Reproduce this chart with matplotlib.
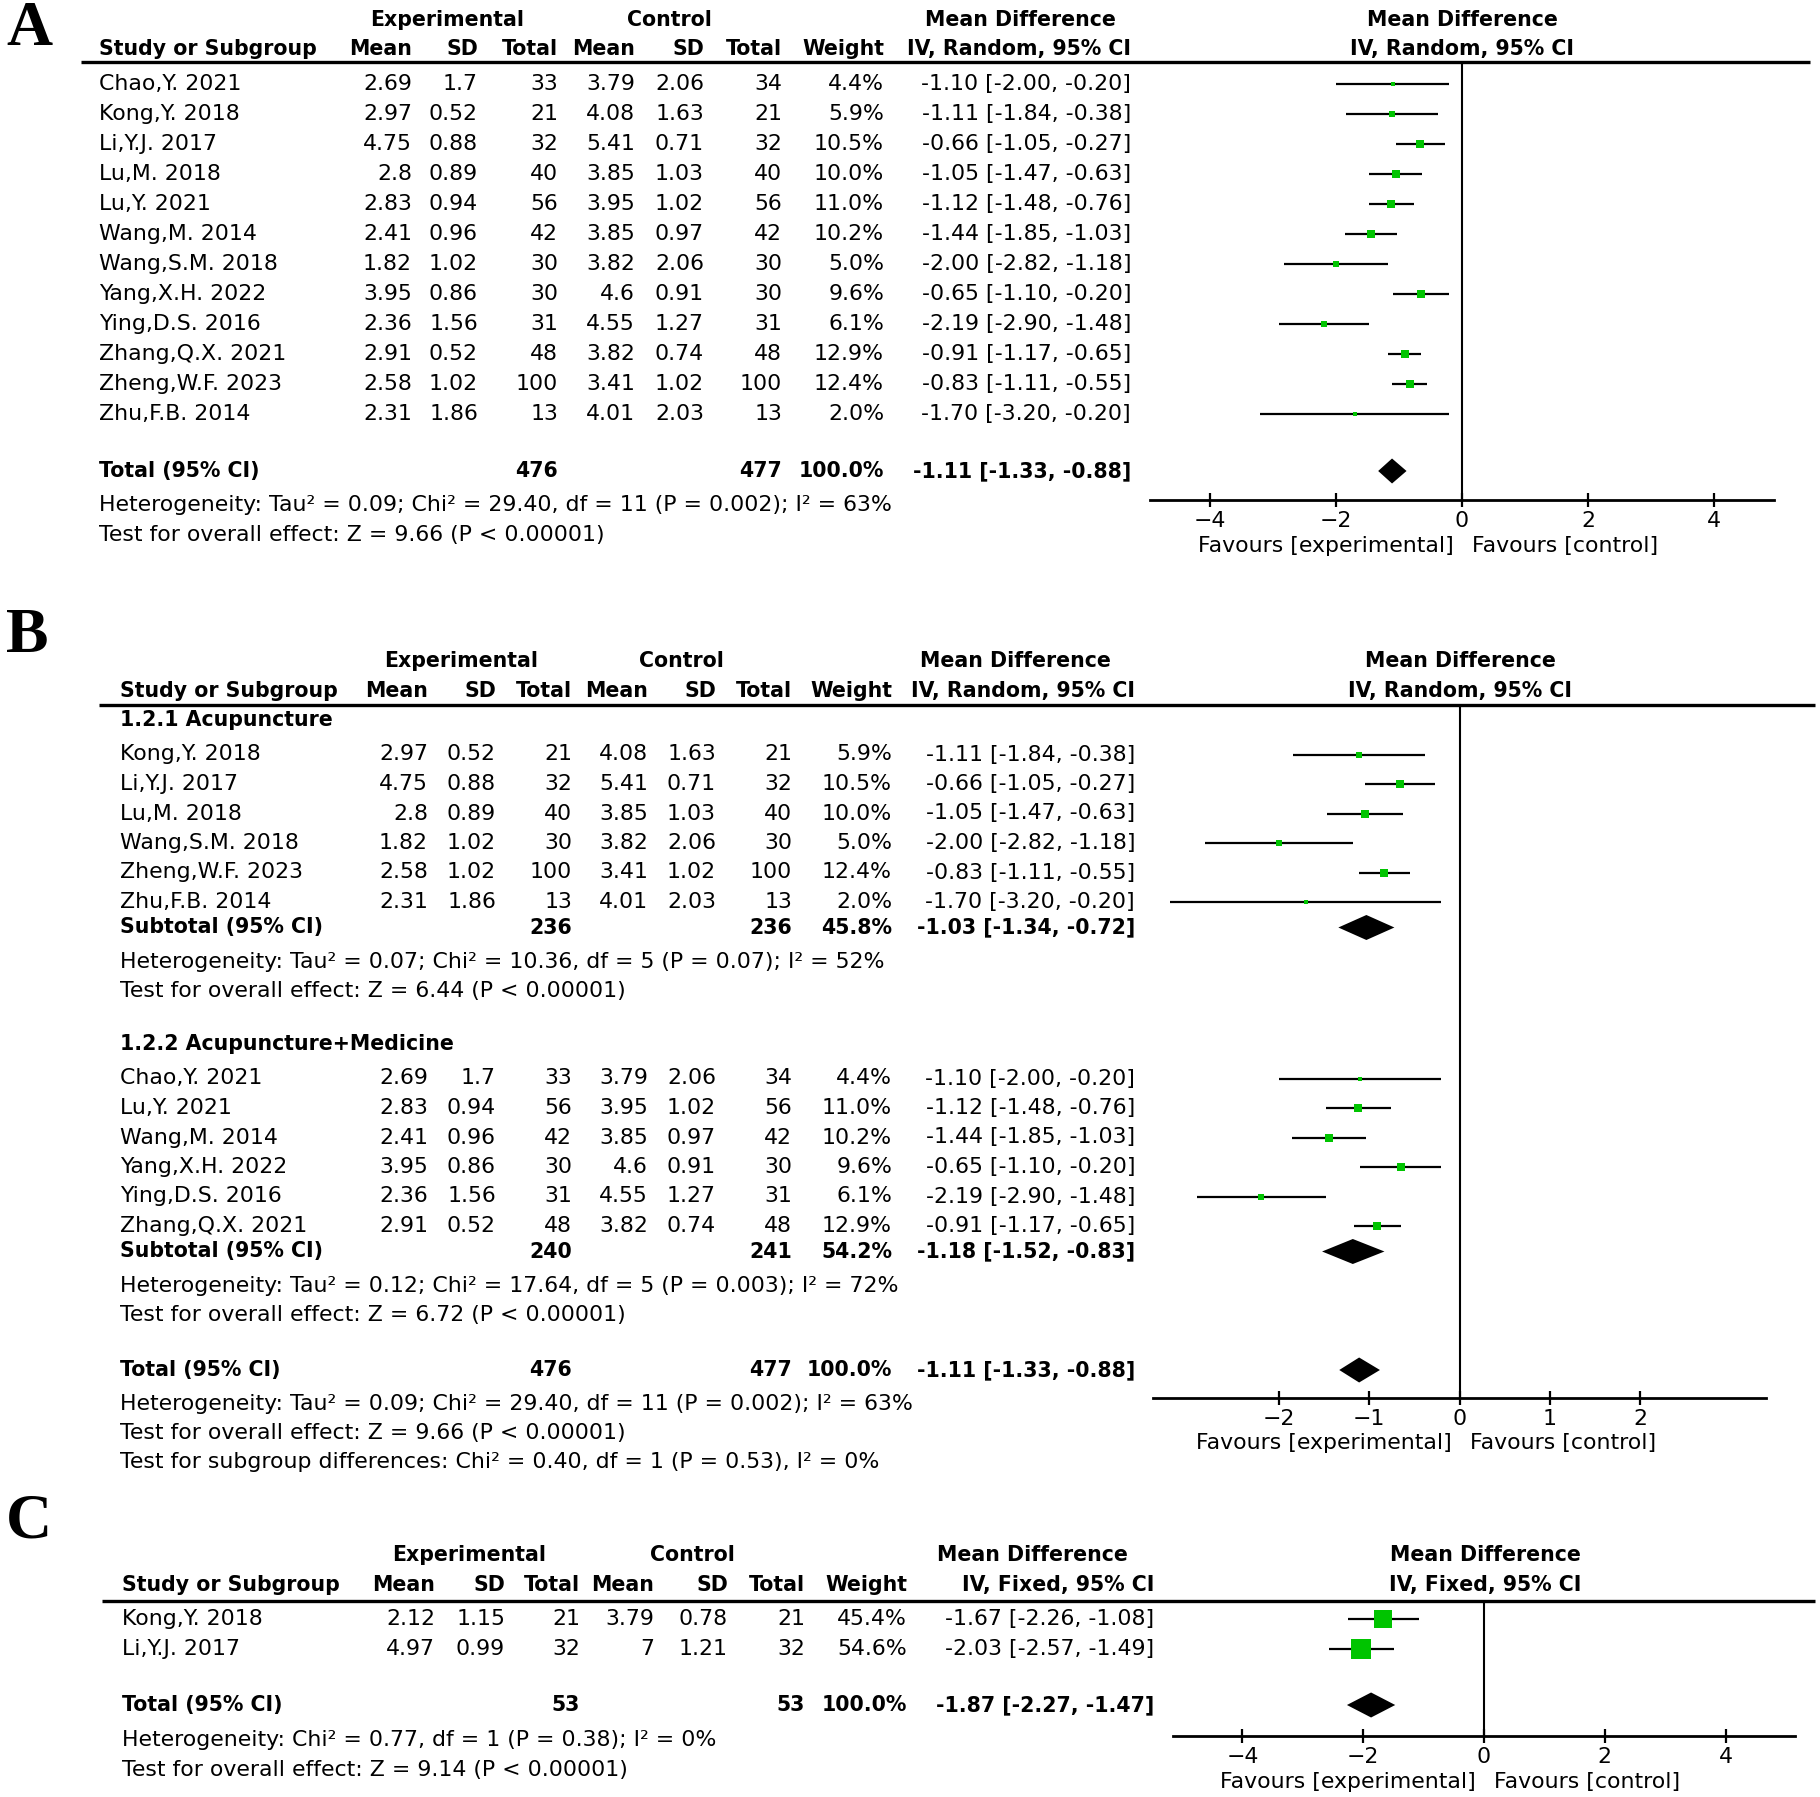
import matplotlib
matplotlib.use("Agg")
import matplotlib.pyplot as plt
import numpy as np

# ---------------- data ----------------
studies = ["Chao,Y. 2021", "Kong,Y. 2018", "Li,Y.J. 2017", "Lu,M. 2018", "Lu,Y. 2021",
           "Wang,M. 2014", "Wang,S.M. 2018", "Yang,X.H. 2022", "Ying,D.S. 2016",
           "Zhang,Q.X. 2021", "Zheng,W.F. 2023", "Zhu,F.B. 2014"]
exp_mean = [2.69, 2.97, 4.75, 2.8, 2.83, 2.41, 1.82, 3.95, 2.36, 2.91, 2.58, 2.31]
exp_sd = [1.7, 0.52, 0.88, 0.89, 0.94, 0.96, 1.02, 0.86, 1.56, 0.52, 1.02, 1.86]
exp_n = [33, 21, 32, 40, 56, 42, 30, 30, 31, 48, 100, 13]
ctl_mean = [3.79, 4.08, 5.41, 3.85, 3.95, 3.85, 3.82, 4.6, 4.55, 3.82, 3.41, 4.01]
ctl_sd = [2.06, 1.63, 0.71, 1.03, 1.02, 0.97, 2.06, 0.91, 1.27, 0.74, 1.02, 2.03]
ctl_n = [34, 21, 32, 40, 56, 42, 30, 30, 31, 48, 100, 13]
weight = [4.4, 5.9, 10.5, 10.0, 11.0, 10.2, 5.0, 9.6, 6.1, 12.9, 12.4, 2.0]
md = [-1.10, -1.11, -0.66, -1.05, -1.12, -1.44, -2.00, -0.65, -2.19, -0.91, -0.83, -1.70]
md_lo = [-2.00, -1.84, -1.05, -1.47, -1.48, -1.85, -2.82, -1.10, -2.90, -1.17, -1.11, -3.20]
md_hi = [-0.20, -0.38, -0.27, -0.63, -0.76, -1.03, -1.18, -0.20, -1.48, -0.65, -0.55, -0.20]
total_n = [476, 477]
total_w = 100.0
total_md = [-1.11, -1.33, -0.88]

# subgroups for panel B (indices into the study lists)
sub_names = ["1.2.1 Acupuncture", "1.2.2 Acupuncture+Medicine"]
sub_members = [[1, 2, 3, 6, 10, 11], [0, 4, 5, 7, 8, 9]]
sub_n = [[236, 236], [240, 241]]
sub_w = [45.8, 54.2]
sub_md = [[-1.03, -1.34, -0.72], [-1.18, -1.52, -0.83]]
sub_het = ["Heterogeneity: Tau² = 0.07; Chi² = 10.36, df = 5 (P = 0.07); I² = 52%",
           "Heterogeneity: Tau² = 0.12; Chi² = 17.64, df = 5 (P = 0.003); I² = 72%"]
sub_test = ["Test for overall effect: Z = 6.44 (P < 0.00001)",
            "Test for overall effect: Z = 6.72 (P < 0.00001)"]
het_all = "Heterogeneity: Tau² = 0.09; Chi² = 29.40, df = 11 (P = 0.002); I² = 63%"
test_all = "Test for overall effect: Z = 9.66 (P < 0.00001)"
test_sub = "Test for subgroup differences: Chi² = 0.40, df = 1 (P = 0.53), I² = 0%"

# panel C
c_studies = ["Kong,Y. 2018", "Li,Y.J. 2017"]
c_exp_mean = [2.12, 4.97]
c_exp_sd = [1.15, 0.99]
c_exp_n = [21, 32]
c_ctl_mean = [3.79, 7]
c_ctl_sd = [0.78, 1.21]
c_ctl_n = [21, 32]
c_weight = [45.4, 54.6]
c_md = [-1.67, -2.03]
c_lo = [-2.26, -2.57]
c_hi = [-1.08, -1.49]
c_total_n = [53, 53]
c_total_md = [-1.87, -2.27, -1.47]
c_het = "Heterogeneity: Chi² = 0.77, df = 1 (P = 0.38); I² = 0%"
c_test = "Test for overall effect: Z = 9.14 (P < 0.00001)"

ticks_A = [-4, -2, 0, 2, 4]
ticks_B = [-2, -1, 0, 1, 2]
ticks_C = [-4, -2, 0, 2, 4]

# ---------------- style ----------------
W, H = 1820, 1797
FONT = "DejaVu Sans"
FS = 15.8
FSB = 14.8
GREEN = "#00c400"
plt.rcParams["font.family"] = [FONT]

fig = plt.figure(figsize=(W / 100, H / 100), dpi=100)
ax0 = fig.add_axes([0, 0, 1, 1])
ax0.set_xlim(0, W)
ax0.set_ylim(H, 0)
ax0.axis("off")


def t(x, y, s, ha="left", bold=False, **kw):
    ax0.text(x, y, s, ha=ha, va="center", fontsize=FSB if bold else FS,
             fontweight="bold" if bold else "normal", **kw)


def fmt_num(v):
    return f"{v:g}"


def fmt_ci(m, l, h):
    return f"{m:.2f} [{l:.2f}, {h:.2f}]"


def header(cols, y_top, y_sub, exp_c, ctl_c, md_c, fig_c, method, line):
    t(exp_c, y_top, "Experimental", ha="center", bold=True)
    t(ctl_c, y_top, "Control", ha="center", bold=True)
    t(md_c, y_top, "Mean Difference", ha="center", bold=True)
    t(fig_c, y_top, "Mean Difference", ha="center", bold=True)
    t(cols["study"], y_sub, "Study or Subgroup", bold=True)
    for key, lab in [("em", "Mean"), ("es", "SD"), ("en", "Total"), ("cm", "Mean"),
                     ("cs", "SD"), ("cn", "Total"), ("w", "Weight")]:
        t(cols[key], y_sub, lab, ha="right", bold=True)
    t(cols["ci"], y_sub, f"IV, {method}, 95% CI", ha="right", bold=True)
    t(fig_c, y_sub, f"IV, {method}, 95% CI", ha="center", bold=True)
    ax0.plot(line[:2], [line[2], line[2]], color="black", lw=2.4, solid_capstyle="butt")


def study_row(cols, y, i, src):
    name, em, es, en, cm, cs, cn, w, m, l, h = src
    t(cols["study"], y, name[i])
    t(cols["em"], y, fmt_num(em[i]), ha="right")
    t(cols["es"], y, fmt_num(es[i]), ha="right")
    t(cols["en"], y, str(en[i]), ha="right")
    t(cols["cm"], y, fmt_num(cm[i]), ha="right")
    t(cols["cs"], y, fmt_num(cs[i]), ha="right")
    t(cols["cn"], y, str(cn[i]), ha="right")
    t(cols["w"], y, f"{w[i]:.1f}%", ha="right")
    t(cols["ci"], y, fmt_ci(m[i], l[i], h[i]), ha="right")


def total_row(cols, y, label, n, w, mdv):
    t(cols["study"], y, label, bold=True)
    t(cols["en"], y, str(n[0]), ha="right", bold=True)
    t(cols["cn"], y, str(n[1]), ha="right", bold=True)
    t(cols["w"], y, f"{w:.1f}%", ha="right", bold=True)
    t(cols["ci"], y, fmt_ci(*mdv), ha="right", bold=True)


def forest_axes(left, right, top, bottom, xlim, ticks):
    ax = fig.add_axes([left / W, 1 - bottom / H, (right - left) / W, (bottom - top) / H])
    ax.set_xlim(*xlim)
    ax.set_ylim(bottom, top)
    ax.patch.set_alpha(0)
    for s in ["top", "left", "right"]:
        ax.spines[s].set_visible(False)
    ax.spines["bottom"].set_linewidth(2.0)
    ax.set_yticks([])
    ax.set_xticks(ticks)
    ax.set_xticklabels([str(v).replace("-", "−") for v in ticks])
    ax.tick_params(axis="x", direction="inout", length=10, width=1.6, labelsize=FS, pad=3)
    ax.axvline(0, color="black", lw=1.5)
    return ax


def draw_study(ax, y, m, l, h, w, k):
    ax.plot([l, h], [y, y], color="black", lw=1.6, solid_capstyle="butt", clip_on=False)
    side = k * np.sqrt(w)
    ax.plot([m], [y], marker="s", ms=side * 0.72, color=GREEN, mec=GREEN, mew=0,
            linestyle="none", clip_on=False)


def draw_diamond(ax, y, mdv, hh=12.5):
    m, l, h = mdv
    ax.fill([l, m, h, m], [y, y - hh, y, y + hh], color="black", lw=0, clip_on=False)


def favours(ax, y):
    ax.annotate("Favours [experimental]", xy=(0, y), xytext=(-8, 0), textcoords="offset pixels",
                ha="right", va="center", fontsize=FS, annotation_clip=False)
    ax.annotate("Favours [control]", xy=(0, y), xytext=(10, 0), textcoords="offset pixels",
                ha="left", va="center", fontsize=FS, annotation_clip=False)


full_src = (studies, exp_mean, exp_sd, exp_n, ctl_mean, ctl_sd, ctl_n, weight, md, md_lo, md_hi)
c_src = (c_studies, c_exp_mean, c_exp_sd, c_exp_n, c_ctl_mean, c_ctl_sd, c_ctl_n, c_weight,
         c_md, c_lo, c_hi)
LETTER = dict(family="Liberation Serif", fontweight="bold", fontsize=46, ha="left", va="center")

# ================= Panel A =================
ax0.text(6, 30, "A", **LETTER)
colsA = dict(study=99, em=412, es=478, en=558, cm=635, cs=704, cn=782, w=884, ci=1131)
header(colsA, 20, 49, 447, 669, 1020, 1462, "Random", (81, 1810, 62))
axA = forest_axes(1150, 1774, 62, 500, (-4.95, 4.95), ticks_A)
rows_A = 84 + 30.0 * np.arange(len(studies))
for i, y in enumerate(rows_A):
    study_row(colsA, y, i, full_src)
    draw_study(axA, y, md[i], md_lo[i], md_hi[i], weight[i], 2.3)
total_row(colsA, 471, "Total (95% CI)", total_n, total_w, total_md)
draw_diamond(axA, 471, total_md)
t(99, 505, het_all)
t(99, 535, test_all)
favours(axA, 546)

# ================= Panel B =================
ax0.text(6, 637, "B", **LETTER)
colsB = dict(study=120, em=428, es=496, en=572, cm=648, cs=716, cn=792, w=892, ci=1135)
header(colsB, 661, 691, 461, 681, 1015, 1460, "Random", (99, 1815, 705))
axB = forest_axes(1153, 1766, 705, 1398, (-3.39, 3.39), ticks_B)
sub_start = [720, 1044]
for g in range(2):
    y0 = sub_start[g]
    t(120, y0, sub_names[g], bold=True)
    for j, i in enumerate(sub_members[g]):
        y = y0 + 34.5 + 29.5 * j
        study_row(colsB, y, i, full_src)
        draw_study(axB, y, md[i], md_lo[i], md_hi[i], weight[i], 2.3)
    ys = y0 + 34.5 + 29.5 * len(sub_members[g]) - 4
    total_row(colsB, ys, "Subtotal (95% CI)", sub_n[g], sub_w[g], sub_md[g])
    draw_diamond(axB, ys, sub_md[g])
    t(120, ys + 34, sub_het[g])
    t(120, ys + 63, sub_test[g])
total_row(colsB, 1370, "Total (95% CI)", total_n, total_w, total_md)
draw_diamond(axB, 1370, total_md)
t(120, 1404, het_all)
t(120, 1433, test_all)
t(120, 1462, test_sub)
favours(axB, 1443)

# ================= Panel C =================
ax0.text(6, 1523, "C", **LETTER)
colsC = dict(study=122, em=435, es=505, en=580, cm=654, cs=728, cn=805, w=907, ci=1154)
header(colsC, 1555, 1585, 469, 692, 1032, 1485, "Fixed", (102, 1815, 1601))
axC = forest_axes(1173, 1795, 1601, 1736, (-5.15, 5.15), ticks_C)
rows_C = [1619, 1649]
for i, y in enumerate(rows_C):
    study_row(colsC, y, i, c_src)
    draw_study(axC, y, c_md[i], c_lo[i], c_hi[i], c_weight[i], 2.7)
total_row(colsC, 1705, "Total (95% CI)", c_total_n, total_w, c_total_md)
draw_diamond(axC, 1705, c_total_md)
t(122, 1740, c_het)
t(122, 1770, c_test)
favours(axC, 1782)

fig.savefig("out.png", dpi=100)
